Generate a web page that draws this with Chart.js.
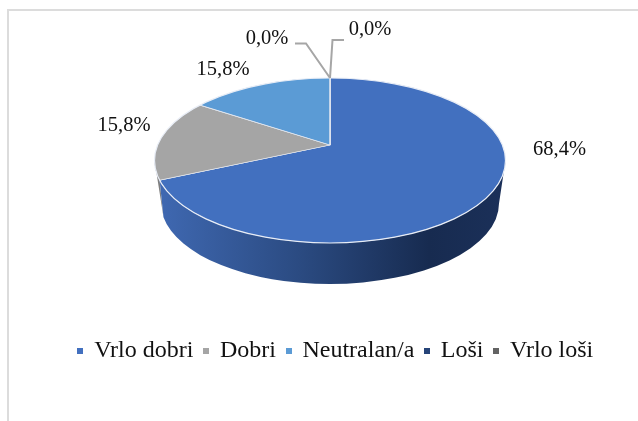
<!DOCTYPE html>
<html>
<head>
<meta charset="utf-8">
<style>html,body{margin:0;padding:0;background:#fff}canvas{display:block}</style>
<script src="https://cdn.jsdelivr.net/npm/chart.js@4"></script>
</head>
<body>
<div style="width:638px;height:421px;position:relative"><canvas id="c" width="638" height="421"></canvas></div>
<script>
const categories = ['Vrlo dobri', 'Dobri', 'Neutralan/a', 'Loši', 'Vrlo loši'];
const shareValues = [68.4, 15.8, 15.8, 0, 0];
const sliceColors = ['#4270bf', '#a5a5a5', '#5b9bd5', '#264478', '#636363'];
const FONT = "'Liberation Serif'";

const apex = {x: 330, y: 145};
const top3d = {x: 330, y: 160.5, rx: 175.5, ry: 82.5};
const low3d = {x: 330, y: 203.5, rx: 169, ry: 80.5};
const squash = 0.47;
const labelSpots = [[559.5,150,'center'],[124,126,'center'],[223,70,'center'],[370,30,'center'],[267,39,'center']];

function rimPoint(a){
  const dx = Math.cos(a), dy = Math.sin(a)*squash;
  const oy = apex.y - top3d.y;
  const A = dx*dx/(top3d.rx*top3d.rx) + dy*dy/(top3d.ry*top3d.ry);
  const B = 2*oy*dy/(top3d.ry*top3d.ry);
  const C = oy*oy/(top3d.ry*top3d.ry) - 1;
  const t = (-B + Math.sqrt(B*B-4*A*C))/(2*A);
  return {x: apex.x + t*dx, y: apex.y + t*dy};
}
function ang(p,e){return Math.atan2((p.y-e.y)/e.ry,(p.x-e.x)/e.rx);}

function legendSwatch(color){
  const c = document.createElement('canvas');
  c.width = 6; c.height = 6;
  const x = c.getContext('2d');
  x.fillStyle = color; x.fillRect(0,0,6,6);
  return c;
}

const pie3d = {
  id: 'pie3d',
  beforeDraw(chart){
    const ctx = chart.ctx;
    ctx.save();
    ctx.strokeStyle = '#dcdcdc'; ctx.lineWidth = 2;
    ctx.beginPath(); ctx.moveTo(8,421); ctx.lineTo(8,10); ctx.lineTo(638,10); ctx.stroke();
    ctx.restore();
  },
  beforeDatasetsDraw(chart){
    const ctx = chart.ctx;
    const arcs = chart.getDatasetMeta(0).data;
    const P = rimPoint(arcs[0].endAngle);
    const aTop = ang(P, top3d);
    const lowP = {x: low3d.x + (P.x-top3d.x)*low3d.rx/top3d.rx + 0, y: P.y + 37};
    const aLow = Math.PI - Math.asin(Math.min(1,(lowP.y-low3d.y)/low3d.ry));
    // grey rim
    ctx.save();
    ctx.fillStyle = '#7f7f7f';
    ctx.beginPath();
    ctx.ellipse(top3d.x,top3d.y,top3d.rx,top3d.ry,0,Math.PI,aTop,true);
    ctx.lineTo(low3d.x + low3d.rx*Math.cos(aLow), low3d.y + low3d.ry*Math.sin(aLow));
    ctx.closePath();
    ctx.fill();
    // blue rim
    const g = ctx.createLinearGradient(160,0,505,0);
    g.addColorStop(0,'#3f68b1');
    g.addColorStop(0.4,'#2b4b82');
    g.addColorStop(0.78,'#172b50');
    g.addColorStop(1,'#1b3059');
    ctx.fillStyle = g;
    ctx.beginPath();
    ctx.ellipse(top3d.x,top3d.y,top3d.rx,top3d.ry,0,aTop,0,true);
    ctx.ellipse(low3d.x,low3d.y,low3d.rx,low3d.ry,0,0,aLow,false);
    ctx.closePath();
    ctx.fill();
    ctx.restore();
    // sloped top
    const a0 = arcs[0];
    ctx.save();
    ctx.beginPath();
    ctx.ellipse(top3d.x,top3d.y,top3d.rx,top3d.ry,0,0,Math.PI*2);
    ctx.clip();
    ctx.translate(apex.x,apex.y);
    ctx.scale(1,squash);
    ctx.translate(-a0.x,-a0.y);
  },
  afterDatasetsDraw(chart){
    const ctx = chart.ctx;
    ctx.restore();
    ctx.save();
    ctx.strokeStyle = '#e8edf6'; ctx.lineWidth = 1.2;
    ctx.beginPath();
    ctx.ellipse(top3d.x,top3d.y,top3d.rx,top3d.ry,0,0,Math.PI*2);
    ctx.stroke();
    ctx.strokeStyle = '#a6a6a6'; ctx.lineWidth = 2;
    ctx.beginPath();
    ctx.moveTo(apex.x,78); ctx.lineTo(332.5,40); ctx.lineTo(344,40);
    ctx.moveTo(apex.x,78); ctx.lineTo(306,43.5); ctx.lineTo(295,43.5);
    ctx.stroke();
    ctx.fillStyle = '#111';
    ctx.font = '20.5px ' + FONT;
    ctx.textBaseline = 'middle';
    shareValues.forEach((v,i)=>{
      const s = labelSpots[i];
      ctx.textAlign = s[2];
      ctx.fillText(v.toFixed(1).replace('.',',') + '%', s[0], s[1]);
    });
    ctx.restore();
  }
};

new Chart(document.getElementById('c'), {
  type: 'pie',
  data: {
    labels: categories,
    datasets: [{
      data: shareValues,
      backgroundColor: sliceColors,
      borderColor: '#e6e9f0',
      borderWidth: 1.5,
      radius: 235
    }]
  },
  options: {
    responsive: false,
    animation: false,
    layout: {padding: {left: 34, bottom: 48}},
    plugins: {
      tooltip: {enabled: false},
      legend: {
        position: 'bottom',
        labels: {
          usePointStyle: true,
          boxWidth: 3.5, boxHeight: 6, padding: 11,
          color: '#111',
          font: {family: FONT, size: 24},
          generateLabels(chart){
            return categories.map((t,i)=>({text: t, fillStyle: sliceColors[i], strokeStyle: sliceColors[i], lineWidth: 0, index: i, fontColor: '#111', pointStyle: legendSwatch(sliceColors[i])}));
          }
        }
      }
    }
  },
  plugins: [pie3d]
});
</script>
</body>
</html>
